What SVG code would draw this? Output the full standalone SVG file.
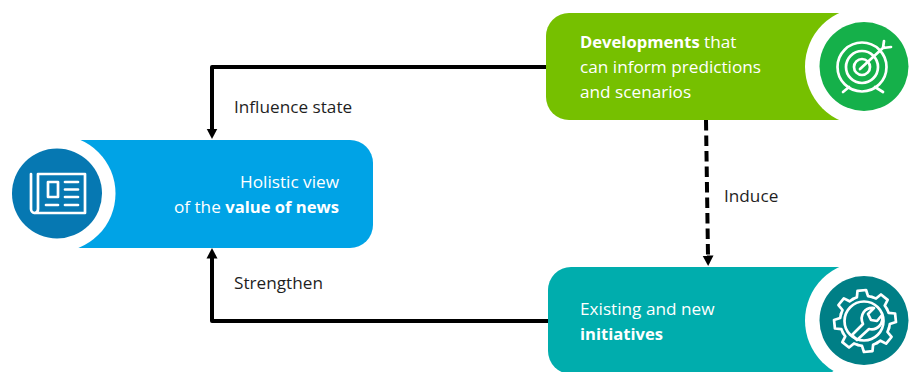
<svg xmlns="http://www.w3.org/2000/svg" width="916" height="372" viewBox="0 0 916 372">
<defs>
<marker id="ah" markerUnits="userSpaceOnUse" markerWidth="11" markerHeight="12" refX="0.500" refY="6" orient="auto"><path d="M0 0.500L10.500 6L0 11.500Z" fill="#000"/></marker>
<path id="tooth" d="M-9.600 -23.100L-5.600 -24.400L-4.300 -30.700L4.300 -30.700L5.600 -24.400L9.600 -23.100"/>
</defs>
<style>
text{font-family:"Open Sans","Noto Sans","Liberation Sans",sans-serif;font-size:17.200px;fill:#1f1f1f}
.w{fill:#fff}
.b{font-weight:700;font-size:16.600px}
.i{fill:none;stroke:#fff;stroke-width:2.700;stroke-linecap:round;stroke-linejoin:round}
.c{fill:none;stroke:#000;stroke-width:4;stroke-linejoin:round}
</style>
<rect width="916" height="372" fill="#fff"/>
<g id="connectors">
<path class="c" d="M546 67H212V129" marker-end="url(#ah)"/>
<path class="c" d="M548 321H212V258" marker-end="url(#ah)"/>
<path class="c" d="M706 120L708 256" stroke-dasharray="10.500 5" marker-end="url(#ah)"/>
<text x="234" y="113">Influence state</text>
<text x="234" y="289">Strengthen</text>
<text x="724" y="202">Induce</text>
</g>
<g id="node-news">
<path d="M60 140H350a23 23 0 0 1 23 23V225a23 23 0 0 1 -23 23H60Z" fill="#00A3E6"/>
<circle cx="57" cy="193.500" r="58.500" fill="#fff"/>
<path d="M0 130H80V140H60V248H80V258H0Z" fill="#fff"/>
<circle cx="57" cy="193.500" r="45" fill="#0678B2"/>
<path class="i" d="M31 174V209a4 4 0 0 0 4 4H85V174H38V209a4 4 0 0 1 -3 4"/>
<rect class="i" x="48" y="182" width="10" height="15"/>
<path class="i" d="M65 182H78M65 189.500H78M65 197H78M46 205H58M65 205H78"/>
<text class="w" x="339" y="188" text-anchor="end">Holistic view</text>
<text class="w" x="339" y="213" text-anchor="end">of the <tspan class="b">value of news</tspan></text>
</g>
<g id="node-developments">
<path d="M870 13H569a23 23 0 0 0 -23 23V97a23 23 0 0 0 23 23H870Z" fill="#76C000"/>
<circle cx="864" cy="66.500" r="59" fill="#fff"/>
<path d="M840 13H916V120H840L864 100V33Z" fill="#fff"/>
<circle cx="864" cy="66.500" r="44.500" fill="#15B04A"/>
<circle class="i" cx="862" cy="67" r="24.500"/>
<circle class="i" cx="862" cy="67" r="16"/>
<circle class="i" cx="862" cy="67" r="8"/>
<path class="i" d="M860 69L884 47M883 48L884 41M883 48L891 47M849 87L843 92M875 87L883 92"/>
<text class="w" x="580" y="48"><tspan class="b">Developments</tspan> that</text>
<text class="w" x="580" y="73">can inform predictions</text>
<text class="w" x="580" y="98">and scenarios</text>
</g>
<g id="node-initiatives">
<path d="M870 267H571a23 23 0 0 0 -23 23V351a23 23 0 0 0 23 23H870Z" fill="#00ADAD"/>
<circle cx="864" cy="320.500" r="59" fill="#fff"/>
<path d="M840 267H916V372H832L864 350V290Z" fill="#fff"/>
<circle cx="864" cy="320.500" r="44.500" fill="#007F86"/>
<g class="i" transform="translate(865 321) rotate(-6)">
<use href="#tooth"/><use href="#tooth" transform="rotate(45)"/><use href="#tooth" transform="rotate(90)"/><use href="#tooth" transform="rotate(135)"/><use href="#tooth" transform="rotate(180)"/><use href="#tooth" transform="rotate(225)"/><use href="#tooth" transform="rotate(270)"/><use href="#tooth" transform="rotate(315)"/>
</g>
<circle class="i" cx="864" cy="321" r="19.500"/>
<path class="i" d="M852 335L863 324C859 315 865 307 874 308L868 314L871 320L877 321L882 315C884 323 878 331 869 329L857 340Z"/>
<text class="w" x="580" y="315">Existing and new</text>
<text class="w b" x="580" y="340">initiatives</text>
</g>
</svg>
